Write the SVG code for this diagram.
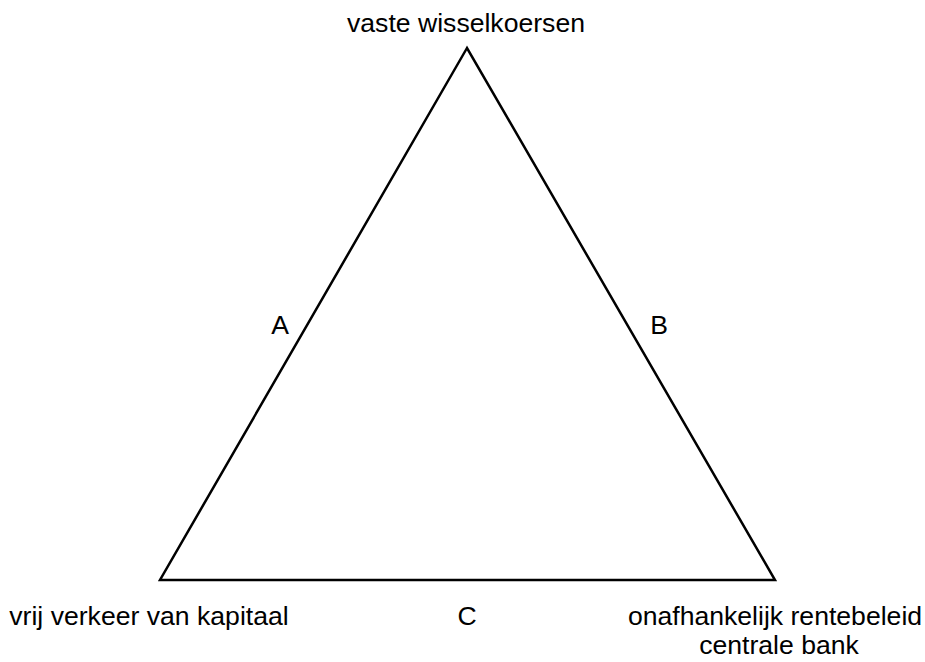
<svg xmlns="http://www.w3.org/2000/svg" width="925" height="662" viewBox="0 0 925 662">
<style>
text{font-family:"Liberation Sans",Arial,sans-serif;font-size:26.6px;fill:#000;text-anchor:middle}
.edge{fill:none;stroke:#000;stroke-width:2.5;stroke-linejoin:miter}
</style>
<rect width="925" height="662" fill="#fff"/>
<g id="connectors">
<polygon class="edge" points="467,48 160,580 775,580"/>
</g>
<g id="node-top"><text x="466" y="32">vaste wisselkoersen</text></g>
<g id="node-left"><text x="149" y="625">vrij verkeer van kapitaal</text></g>
<g id="node-right"><text x="775" y="625">onafhankelijk rentebeleid</text><text x="779" y="653.5">centrale bank</text></g>
<g id="label-a"><text x="280" y="334">A</text></g>
<g id="label-b"><text x="659" y="334">B</text></g>
<g id="label-c"><text x="467" y="625">C</text></g>
</svg>
